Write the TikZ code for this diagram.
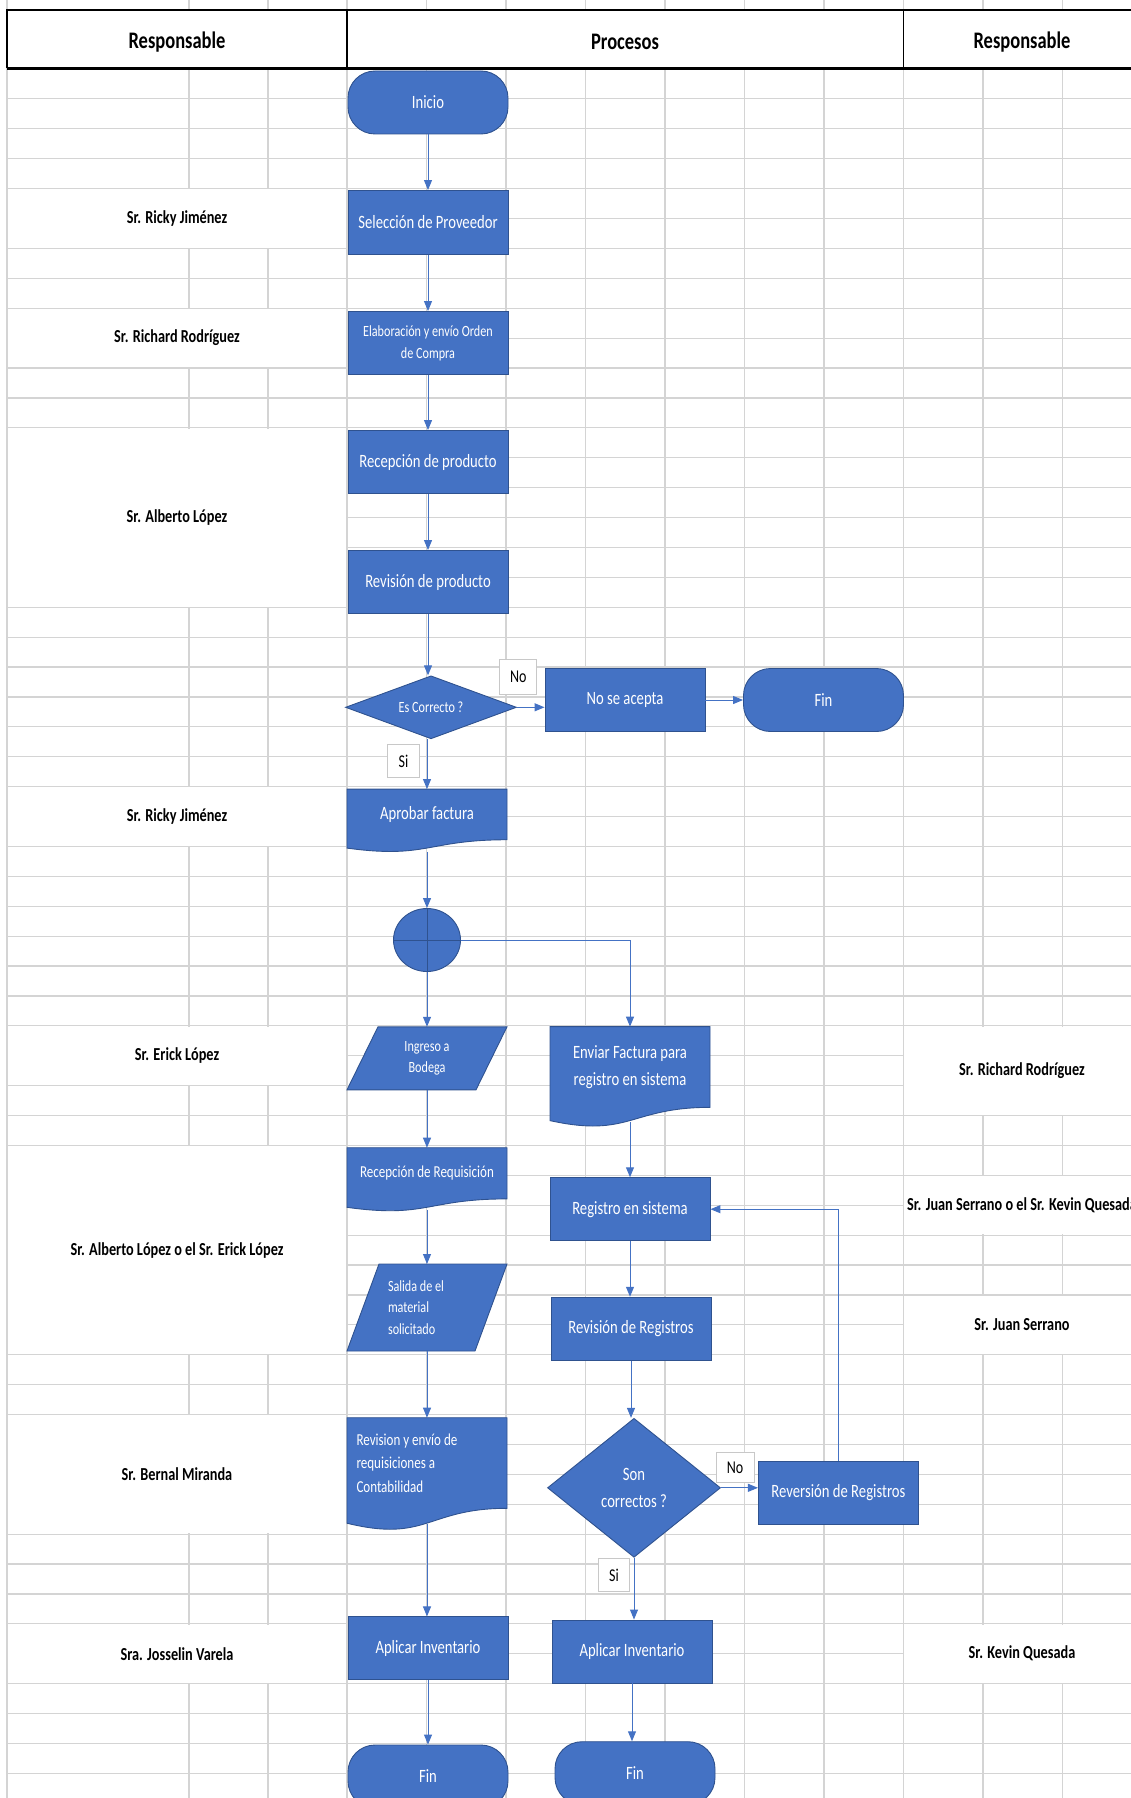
\documentclass[tikz,border=0pt]{standalone}
\usepackage{fontspec}
\setmainfont{Carlito}[FakeStretch=0.78]
\usetikzlibrary{arrows.meta,calc,shapes.geometric}

\definecolor{flowblue}{HTML}{4472C4}
\definecolor{edgeblue}{HTML}{2F528F}
\definecolor{cellgray}{HTML}{D4D4D4}
\definecolor{tagedge}{HTML}{C8C8C8}

\pgfdeclarelayer{cells}
\pgfdeclarelayer{shapes}
\pgfsetlayers{cells,shapes,main}

\newcommand{\fsz}[2]{\fontsize{#1}{#2}\selectfont}

\tikzset{
  gridline/.style={
    draw=cellgray,
    line width=1.2pt
  },
  namecell/.style={
    fill=white,
    inner sep=0pt,
    outer sep=0pt,
    align=center,
    font=\fsz{18.3}{22}\bfseries
  },
  headcell/.style={
    inner sep=0pt,
    font=\fsz{23.7}{28}\bfseries
  },
  procbox/.style={
    draw=edgeblue,
    fill=flowblue,
    line width=0.9pt,
    text=white,
    minimum width=160pt,
    minimum height=63pt,
    inner sep=2pt,
    align=center,
    font=\fsz{18.8}{22}
  },
  termbox/.style={
    procbox,
    rounded corners=27pt
  },
  decbox/.style={
    procbox,
    diamond,
    inner sep=0pt
  },
  joinbox/.style={
    ellipse,
    draw=edgeblue,
    fill=flowblue,
    line width=0.9pt,
    minimum width=67pt,
    minimum height=63pt,
    inner sep=0pt,
    path picture={
      \draw[edgeblue, line width=1pt]
        (path picture bounding box.north) -- (path picture bounding box.south)
        (path picture bounding box.west) -- (path picture bounding box.east);
    }
  },
  shapetext/.style={
    text=white,
    minimum width=160pt,
    inner sep=0pt,
    outer sep=0pt,
    align=center,
    font=\fsz{18.8}{22}
  },
  shapefill/.style={
    draw=edgeblue,
    fill=flowblue,
    line width=0.9pt
  },
  flowline/.style={
    draw=flowblue,
    line width=1pt
  },
  flowarrow/.style={
    flowline,
    -{Triangle[length=10pt,width=8pt]}
  },
  tagbox/.style={
    draw=tagedge,
    fill=white,
    line width=0.8pt,
    inner sep=0pt,
    font=\fsz{18}{21}
  }
}

% document symbol: the node is the straight part, the wave hangs below it
\newcommand{\docwave}[1]{%
  \begin{pgfonlayer}{shapes}
    \path[shapefill] (#1.north west) -- (#1.north east) -- (#1.south east)
      .. controls (#1.south) and ($(#1.north)!1.381!(#1.south)$)
      .. ($(#1.north west)!1.1646!(#1.south west)$) -- cycle;
  \end{pgfonlayer}}
% data symbol: slanted box over the node
\newcommand{\databox}[2]{%
  \begin{pgfonlayer}{shapes}
    \path[shapefill] ($(#1.north west)+(#2,0)$) -- (#1.north east)
      -- ($(#1.south east)-(#2,0)$) -- (#1.south west) -- cycle;
  \end{pgfonlayer}}

\begin{document}
\begin{tikzpicture}[x=1pt, y=-1pt]
    \useasboundingbox (0,0) rectangle (1131,1798);
    \clip (0,0) rectangle (1131,1798);

    \begin{pgfonlayer}{cells}
        % sheet grid
        \foreach \k in {0,...,57}
            \draw[gridline] (7,{69+29.9*\k}) -- (1131,{69+29.9*\k});
        \foreach \x in {7,189,268,347,426.5,506,585.5,665,744.5,824,903.5,983,1062.5}
            \draw[gridline] (\x,0) -- (\x,1798);

        % header row
        \fill[white] (7,10) rectangle (1140,68);
        \draw[line width=1.3pt] (1140,10) -- (7,10) -- (7,68);
        \draw[line width=1.3pt] (347,10) -- (347,68) (903.5,10) -- (903.5,68);
        \draw[line width=2.7pt] (7,68.5) -- (1140,68.5);

        % merged cells, left
        \node[namecell, minimum width=338.6pt, minimum height=58.4pt] (rickyA) at (177,218.5) {Sr. Ricky Jiménez};
        \node[namecell, minimum width=338.6pt, minimum height=58.4pt] (richA) at (177,338.1) {Sr. Richard Rodríguez};
        \node[namecell, minimum width=338.6pt, minimum height=178pt] (albertoA) at (177,517.5) {Sr. Alberto López};
        \node[namecell, minimum width=338.6pt, minimum height=58.4pt] (rickyB) at (177,816.5) {Sr. Ricky Jiménez};
        \node[namecell, minimum width=338.6pt, minimum height=58.4pt] (erick) at (177,1055.7) {Sr. Erick López};
        \node[namecell, minimum width=338.6pt, minimum height=207.9pt] (albertoB) at (177,1250.05) {Sr. Alberto López o el Sr. Erick López};
        \node[namecell, minimum width=338.6pt, minimum height=118.2pt] (bernal) at (177,1474.3) {Sr. Bernal Miranda};
        \node[namecell, minimum width=338.6pt, minimum height=58.4pt] (josselin) at (177,1653.7) {Sra. Josselin Varela};

        % merged cells, right
        \node[namecell, minimum width=236pt, minimum height=88.3pt] (richB) at (1022,1070.7) {Sr. Richard Rodríguez};
        \node[namecell, minimum width=236pt, minimum height=58.4pt] (juankev) at (1022,1205.2) {Sr. Juan Serrano o el Sr. Kevin Quesada};
        \node[namecell, minimum width=236pt, minimum height=58.4pt] (juan) at (1022,1324.8) {Sr. Juan Serrano};
        \node[namecell, minimum width=236pt, minimum height=58.4pt] (kevin) at (1022,1653.7) {Sr. Kevin Quesada};
    \end{pgfonlayer}

    \node[headcell] (hresp) at (177,42) {Responsable};
    \node[headcell] (hproc) at (625,42) {Procesos};
    \node[headcell] (hrespB) at (1022,42) {Responsable};

    % main flow
    \node[termbox] (inicio) at (428,102.5) {Inicio};
    \node[procbox, minimum height=64pt] (selprov) at (428,222.5) {Selección de Proveedor};
    \node[procbox, font=\fsz{15.6}{22}] (orden) at (428,343) {Elaboración y envío Orden\\de Compra};
    \node[procbox] (recprod) at (428,462) {Recepción de producto};
    \node[procbox] (revprod) at (428,582) {Revisión de producto};
    \node[decbox, minimum width=171pt, minimum height=63pt, shape aspect=2.7, font=\fsz{15.6}{18}] (escorr) at (431,707.3) {Es Correcto ?};
    \node[procbox] (noacep) at (625,700) {No se acepta};
    \node[termbox] (finA) at (823.5,700) {Fin};
    \node[shapetext, minimum height=50.7pt] (aprob) at (427,814.4) {Aprobar factura};
    \docwave{aprob}
    \node[joinbox] (junta) at (427,940) {};
    \node[shapetext, minimum height=63pt, font=\fsz{15.6}{21.7}] (ingreso) at (427,1058.3) {Ingreso a\\Bodega};
    \databox{ingreso}{31}
    \node[shapetext, minimum height=80.7pt, font=\fsz{18.8}{26.7}] (enviar) at (630,1067) {Enviar Factura para\\registro en sistema};
    \docwave{enviar}
    \node[shapetext, minimum height=51.2pt, font=\fsz{16.7}{19}] (recreq) at (427,1173.3) {Recepción de Requisición};
    \docwave{recreq}
    \node[procbox] (registro) at (630,1209.2) {Registro en sistema};
    \node[shapetext, minimum height=87pt, text width=78pt, align=flush left, font=\fsz{15.6}{21.7}] (salida) at (427,1307.5) {Salida de el\\material\\solicitado};
    \databox{salida}{32}
    \node[procbox] (revreg) at (631,1328.7) {Revisión de Registros};
    \node[shapetext, minimum height=90.6pt, text width=141pt, align=flush left, font=\fsz{16.7}{23.3}] (revis) at (427,1463) {Revision y envío de\\requisiciones a\\Contabilidad};
    \docwave{revis}
    \node[decbox, minimum width=173pt, minimum height=139pt, shape aspect=1.25, font=\fsz{18.8}{26.7}] (soncorr) at (634,1487.8) {Son\\correctos ?};
    \node[procbox] (revers) at (838.4,1492.7) {Reversión de Registros};
    \node[procbox] (aplA) at (428,1648.4) {Aplicar Inventario};
    \node[procbox] (aplB) at (632,1651.5) {Aplicar Inventario};
    \node[termbox] (finB) at (428,1776.5) {Fin};
    \node[termbox] (finC) at (635,1773.2) {Fin};

    % branch tags
    \node[tagbox, minimum width=37pt, minimum height=35pt] (noA) at (518.3,676.7) {No};
    \node[tagbox, minimum width=32pt, minimum height=33pt] (siA) at (403.5,761) {Si};
    \node[tagbox, minimum width=38pt, minimum height=30pt] (noB) at (735,1467.5) {No};
    \node[tagbox, minimum width=31pt, minimum height=33pt] (siB) at (614,1575) {Si};

    \draw[flowarrow] (inicio) -- (selprov);
    \draw[flowarrow] (selprov) -- (orden);
    \draw[flowarrow] (orden) -- (recprod);
    \draw[flowarrow] (recprod) -- (revprod);
    \draw[flowarrow] (revprod) -- (revprod |- escorr.north);
    \draw[flowarrow] (escorr.east) -- (escorr.east -| noacep.west);
    \draw[flowarrow] (noacep) -- (finA);
    \draw[flowarrow] (escorr.south -| aprob.north) -- (aprob.north);
    \draw[flowarrow, shorten <=12pt] (aprob.south) -- (junta.north);
    \draw[flowarrow] (junta.east) -| (enviar.north);
    \draw[flowarrow] (junta.south) -- (ingreso.north);
    \draw[flowarrow] (ingreso.south) -- (recreq.north);
    \draw[flowarrow, shorten <=15pt] (enviar.south) -- (registro.north);
    \draw[flowarrow, shorten <=11pt] (recreq.south) -- (salida.north);
    \draw[flowarrow] (registro.south) -- (registro.south |- revreg.north);
    \draw[flowarrow] (revreg.south) -- (revreg.south |- soncorr.north);
    \draw[flowarrow] (soncorr.east) -- (soncorr.east -| revers.west);
    \draw[flowarrow] (revers.north) |- (registro.east);
    \draw[flowarrow] (salida.south) -- (revis.north);
    \draw[flowarrow, shorten <=16pt] (revis.south) -- (revis.south |- aplA.north);
    \draw[flowarrow] (soncorr.south) -- (soncorr.south |- aplB.north);
    \draw[flowarrow] (aplA) -- (finB);
    \draw[flowarrow] (aplB.south) -- (aplB.south |- finC.north);
\end{tikzpicture}
\end{document}
